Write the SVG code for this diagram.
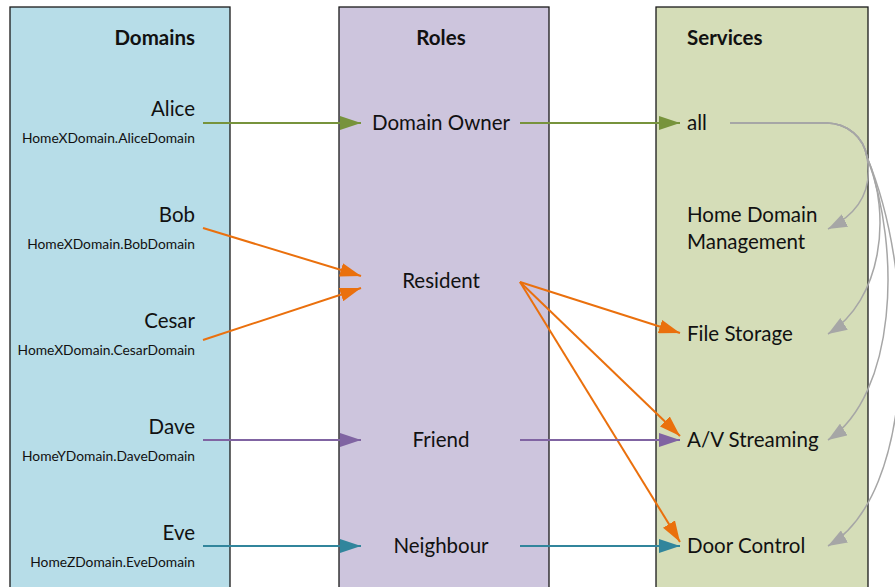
<svg xmlns="http://www.w3.org/2000/svg" width="895" height="587" viewBox="0 0 895 587">
  <style>
    .col { stroke: #1a1a1a; stroke-width: 1.3; }
    .head { font-family: Lato, "Liberation Sans", sans-serif; font-weight: bold; font-size: 20.5px; fill: #111; }
    .lbl { font-family: Lato, "Liberation Sans", sans-serif; font-size: 20.5px; fill: #111; }
    .sub { font-family: Lato, "Liberation Sans", sans-serif; font-size: 13.8px; fill: #111; }
    .edge { fill: none; stroke-width: 2; }
    .green { stroke: #77933C; }
    .orange { stroke: #EA700D; }
    .purple { stroke: #8064A2; }
    .teal { stroke: #31859C; }
    .grey { stroke: #A6A6A6; stroke-width: 1.5; }
  </style>
  <defs>
    <marker id="ah-green" markerUnits="userSpaceOnUse" markerWidth="22" markerHeight="14" refX="21" refY="7" orient="auto">
      <path d="M0,0 L21,7 L0,14 Z" fill="#77933C"/>
    </marker>
    <marker id="ah-orange" markerUnits="userSpaceOnUse" markerWidth="22" markerHeight="14" refX="21" refY="7" orient="auto">
      <path d="M0,0 L21,7 L0,14 Z" fill="#EA700D"/>
    </marker>
    <marker id="ah-purple" markerUnits="userSpaceOnUse" markerWidth="22" markerHeight="14" refX="21" refY="7" orient="auto">
      <path d="M0,0 L21,7 L0,14 Z" fill="#8064A2"/>
    </marker>
    <marker id="ah-teal" markerUnits="userSpaceOnUse" markerWidth="22" markerHeight="14" refX="21" refY="7" orient="auto">
      <path d="M0,0 L21,7 L0,14 Z" fill="#31859C"/>
    </marker>
    <marker id="ah-grey" markerUnits="userSpaceOnUse" markerWidth="20" markerHeight="14" refX="19" refY="7" orient="auto">
      <path d="M0,0 L19,7 L0,14 Z" fill="#A6A6A6"/>
    </marker>
  </defs>

  <rect width="895" height="587" fill="#ffffff"/>

  <!-- Column panels -->
  <g id="domains">
    <rect class="col" x="10" y="7" width="220" height="600" fill="#B7DDE8"/>
    <text class="head" x="195" y="45" text-anchor="end">Domains</text>
  </g>
  <g id="roles">
    <rect class="col" x="339" y="7" width="210" height="600" fill="#CDC5DD"/>
    <text class="head" x="441" y="45" text-anchor="middle">Roles</text>
  </g>
  <g id="services">
    <rect class="col" x="656" y="7" width="212" height="600" fill="#D5DDB8"/>
    <text class="head" x="687" y="45">Services</text>
  </g>

  <!-- Domain nodes -->
  <g id="alice">
    <text class="lbl" x="195" y="116" text-anchor="end">Alice</text>
    <text class="sub" x="195" y="143" text-anchor="end">HomeXDomain.AliceDomain</text>
  </g>
  <g id="bob">
    <text class="lbl" x="195" y="222" text-anchor="end">Bob</text>
    <text class="sub" x="195" y="249" text-anchor="end">HomeXDomain.BobDomain</text>
  </g>
  <g id="cesar">
    <text class="lbl" x="195" y="328" text-anchor="end">Cesar</text>
    <text class="sub" x="195" y="355" text-anchor="end">HomeXDomain.CesarDomain</text>
  </g>
  <g id="dave">
    <text class="lbl" x="195" y="434" text-anchor="end">Dave</text>
    <text class="sub" x="195" y="461" text-anchor="end">HomeYDomain.DaveDomain</text>
  </g>
  <g id="eve">
    <text class="lbl" x="195" y="540" text-anchor="end">Eve</text>
    <text class="sub" x="195" y="567" text-anchor="end">HomeZDomain.EveDomain</text>
  </g>

  <!-- Role nodes -->
  <g id="domain-owner"><text class="lbl" x="441" y="130" text-anchor="middle">Domain Owner</text></g>
  <g id="resident"><text class="lbl" x="441" y="288" text-anchor="middle">Resident</text></g>
  <g id="friend"><text class="lbl" x="441" y="447" text-anchor="middle">Friend</text></g>
  <g id="neighbour"><text class="lbl" x="441" y="553" text-anchor="middle">Neighbour</text></g>

  <!-- Service nodes -->
  <g id="all"><text class="lbl" x="687" y="130">all</text></g>
  <g id="home-domain-management">
    <text class="lbl" x="687" y="222">Home Domain</text>
    <text class="lbl" x="687" y="249">Management</text>
  </g>
  <g id="file-storage"><text class="lbl" x="687" y="341">File Storage</text></g>
  <g id="av-streaming"><text class="lbl" x="687" y="447">A/V Streaming</text></g>
  <g id="door-control"><text class="lbl" x="687" y="553">Door Control</text></g>

  <!-- Connectors -->
  <g id="connectors">
    <path class="edge green" d="M203,123 L361,123" marker-end="url(#ah-green)"/>
    <path class="edge green" d="M520,123 L680,123" marker-end="url(#ah-green)"/>

    <path class="edge orange" d="M203,228 L361,276" marker-end="url(#ah-orange)"/>
    <path class="edge orange" d="M203,340 L361,288" marker-end="url(#ah-orange)"/>
    <path class="edge orange" d="M520,282 L680,333" marker-end="url(#ah-orange)"/>
    <path class="edge orange" d="M520,282 L680,436" marker-end="url(#ah-orange)"/>
    <path class="edge orange" d="M520,282 L680,542" marker-end="url(#ah-orange)"/>

    <path class="edge purple" d="M203,440 L361,440" marker-end="url(#ah-purple)"/>
    <path class="edge purple" d="M520,440 L680,440" marker-end="url(#ah-purple)"/>

    <path class="edge teal" d="M203,546 L361,546" marker-end="url(#ah-teal)"/>
    <path class="edge teal" d="M520,546 L680,546" marker-end="url(#ah-teal)"/>

    <path class="edge grey" d="M730,123 L826,123 C848,123 864,138 867,157 C873,190 858,214 828,229" marker-end="url(#ah-grey)"/>
    <path class="edge grey" d="M730,123 L826,123 C848,123 864,138 867,157 C892,215 882,300 828,334" marker-end="url(#ah-grey)"/>
    <path class="edge grey" d="M730,123 L826,123 C848,123 864,138 867,157 C902,250 896,395 828,440" marker-end="url(#ah-grey)"/>
    <path class="edge grey" d="M730,123 L826,123 C848,123 864,138 867,157 C918,280 916,495 828,546" marker-end="url(#ah-grey)"/>
  </g>
</svg>
